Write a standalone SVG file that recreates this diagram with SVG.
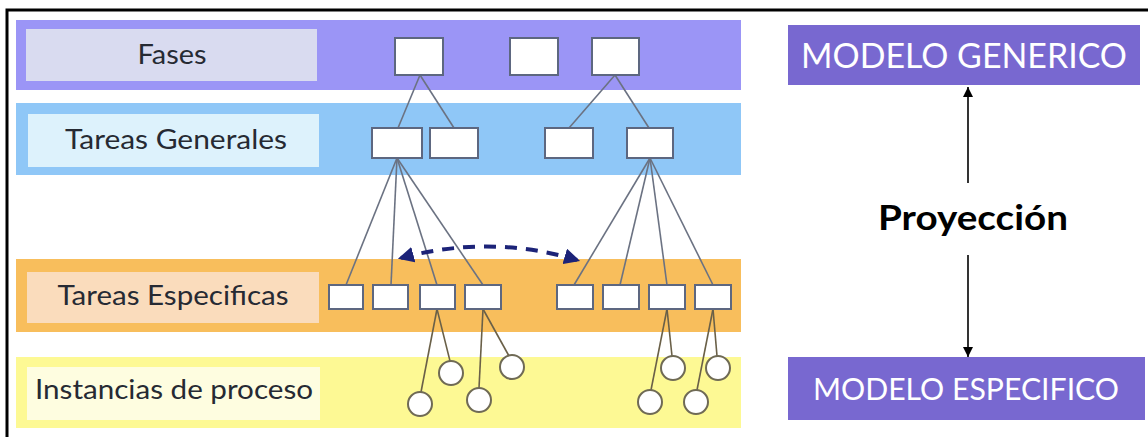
<svg xmlns="http://www.w3.org/2000/svg" width="1148" height="437" viewBox="0 0 1148 437">
<defs>
<style>
.lbl{font-family:"Lato","Liberation Sans",sans-serif;font-size:27px;fill:#262a33;text-anchor:middle}
.mdl{font-family:"Lato","Liberation Sans",sans-serif;font-size:34px;fill:#ffffff;text-anchor:middle}
.box{fill:#ffffff;stroke:#5d6780;stroke-width:2}
.cir{fill:#ffffff;stroke:#6f6a55;stroke-width:2}
.ln{stroke:#6b7282;stroke-width:1.6;fill:none}
.ln2{stroke:#6a6048;stroke-width:1.6;fill:none}
.dash{stroke:#1c2378;stroke-width:4;fill:none;stroke-dasharray:12 9}
.blk{stroke:#000;stroke-width:1.6;fill:none}
</style>
<marker id="nav" viewBox="0 0 10 10" refX="8" refY="5" markerWidth="4" markerHeight="4" orient="auto-start-reverse" markerUnits="strokeWidth"><path d="M0,0 L10,5 L0,10 z" fill="#1c2378"/></marker>
<marker id="ah" viewBox="0 0 10 10" refX="10" refY="5" markerWidth="12" markerHeight="10" orient="auto" markerUnits="userSpaceOnUse"><path d="M0,0 L10,5 L0,10 z" fill="#000"/></marker>
</defs>
<rect width="1148" height="437" fill="#ffffff"/>
<path d="M7,437 V10 H1148" stroke="#000" stroke-width="3" fill="none"/>

<g id="band-fases">
<rect x="16" y="20" width="725" height="70" fill="#9b95f6"/>
<rect x="26" y="29" width="291" height="52" fill="#d9dbf0"/>
<text class="lbl" x="172" y="64" textLength="69" lengthAdjust="spacingAndGlyphs">Fases</text>
</g>
<g id="band-generales">
<rect x="16" y="103" width="725" height="72" fill="#8fc7f7"/>
<rect x="28" y="114" width="291" height="53" fill="#ddf2fc"/>
<text class="lbl" x="176" y="149" textLength="222" lengthAdjust="spacingAndGlyphs">Tareas Generales</text>
</g>
<g id="band-especificas">
<rect x="16" y="259" width="725" height="73" fill="#f8be5c"/>
<rect x="27" y="272" width="292" height="51" fill="#fadcbc"/>
<text class="lbl" x="173" y="305" textLength="231" lengthAdjust="spacingAndGlyphs">Tareas Especificas</text>
</g>
<g id="band-instancias">
<rect x="16" y="357" width="725" height="71" fill="#fdf994"/>
<rect x="27" y="367" width="293" height="53" fill="#fefde0"/>
<text class="lbl" x="174" y="399" textLength="278" lengthAdjust="spacingAndGlyphs">Instancias de proceso</text>
</g>

<g id="connectors">
<line class="ln" x1="420" y1="75" x2="398" y2="128"/>
<line class="ln" x1="420" y1="75" x2="454" y2="128"/>
<line class="ln" x1="615" y1="75" x2="569" y2="128"/>
<line class="ln" x1="615" y1="75" x2="649" y2="128"/>
<line class="ln" x1="397" y1="158" x2="346" y2="285"/>
<line class="ln" x1="397" y1="158" x2="391" y2="285"/>
<line class="ln" x1="397" y1="158" x2="437" y2="285"/>
<line class="ln" x1="397" y1="158" x2="483" y2="285"/>
<line class="ln" x1="650" y1="158" x2="574" y2="285"/>
<line class="ln" x1="650" y1="158" x2="620" y2="285"/>
<line class="ln" x1="650" y1="158" x2="667" y2="285"/>
<line class="ln" x1="650" y1="158" x2="713" y2="285"/>
<line class="ln2" x1="437" y1="309" x2="421" y2="392"/>
<line class="ln2" x1="437" y1="309" x2="450" y2="361"/>
<line class="ln2" x1="483" y1="309" x2="479" y2="388"/>
<line class="ln2" x1="483" y1="309" x2="509" y2="356"/>
<line class="ln2" x1="667" y1="309" x2="651" y2="390"/>
<line class="ln2" x1="667" y1="309" x2="672" y2="356"/>
<line class="ln2" x1="713" y1="309" x2="697" y2="390"/>
<line class="ln2" x1="713" y1="309" x2="717" y2="356"/>
<path class="dash" d="M401,258 Q490,234 577,260" marker-start="url(#nav)" marker-end="url(#nav)"/>
<line class="blk" x1="968" y1="183" x2="968" y2="87" marker-end="url(#ah)"/>
<line class="blk" x1="968" y1="255" x2="968" y2="357" marker-end="url(#ah)"/>
</g>

<g id="fase-1"><rect class="box" x="395" y="38" width="48" height="37"/></g>
<g id="fase-2"><rect class="box" x="510" y="38" width="48" height="37"/></g>
<g id="fase-3"><rect class="box" x="592" y="38" width="47" height="37"/></g>

<g id="general-1"><rect class="box" x="372" y="128" width="50" height="30"/></g>
<g id="general-2"><rect class="box" x="430" y="128" width="48" height="30"/></g>
<g id="general-3"><rect class="box" x="545" y="128" width="48" height="30"/></g>
<g id="general-4"><rect class="box" x="627" y="128" width="46" height="30"/></g>

<g id="especifica-1"><rect class="box" x="329" y="285" width="34" height="24"/></g>
<g id="especifica-2"><rect class="box" x="373" y="285" width="35" height="24"/></g>
<g id="especifica-3"><rect class="box" x="420" y="285" width="35" height="24"/></g>
<g id="especifica-4"><rect class="box" x="465" y="285" width="36" height="24"/></g>
<g id="especifica-5"><rect class="box" x="557" y="285" width="36" height="24"/></g>
<g id="especifica-6"><rect class="box" x="603" y="285" width="36" height="24"/></g>
<g id="especifica-7"><rect class="box" x="649" y="285" width="36" height="24"/></g>
<g id="especifica-8"><rect class="box" x="695" y="285" width="36" height="24"/></g>

<g id="instancia-1"><circle class="cir" cx="420" cy="404" r="12"/></g>
<g id="instancia-2"><circle class="cir" cx="451" cy="373" r="12"/></g>
<g id="instancia-3"><circle class="cir" cx="479" cy="400" r="12"/></g>
<g id="instancia-4"><circle class="cir" cx="512" cy="367" r="12"/></g>
<g id="instancia-5"><circle class="cir" cx="650" cy="402" r="12"/></g>
<g id="instancia-6"><circle class="cir" cx="673" cy="368" r="12"/></g>
<g id="instancia-7"><circle class="cir" cx="696" cy="402" r="12"/></g>
<g id="instancia-8"><circle class="cir" cx="718" cy="368" r="12"/></g>

<g id="modelo-generico">
<rect x="788" y="25" width="352" height="60" fill="#7868d0"/>
<text class="mdl" x="964" y="68" textLength="326" lengthAdjust="spacingAndGlyphs">MODELO GENERICO</text>
</g>
<g id="proyeccion">
<text x="973" y="230" font-family="Lato,'Liberation Sans',sans-serif" font-weight="bold" font-size="34" fill="#000" text-anchor="middle" textLength="190" lengthAdjust="spacingAndGlyphs">Proyección</text>
</g>
<g id="modelo-especifico">
<rect x="788" y="357" width="357" height="63" fill="#7868d0"/>
<text class="mdl" x="966" y="400" font-size="31" textLength="306" lengthAdjust="spacingAndGlyphs" style="font-size:31px">MODELO ESPECIFICO</text>
</g>
</svg>
